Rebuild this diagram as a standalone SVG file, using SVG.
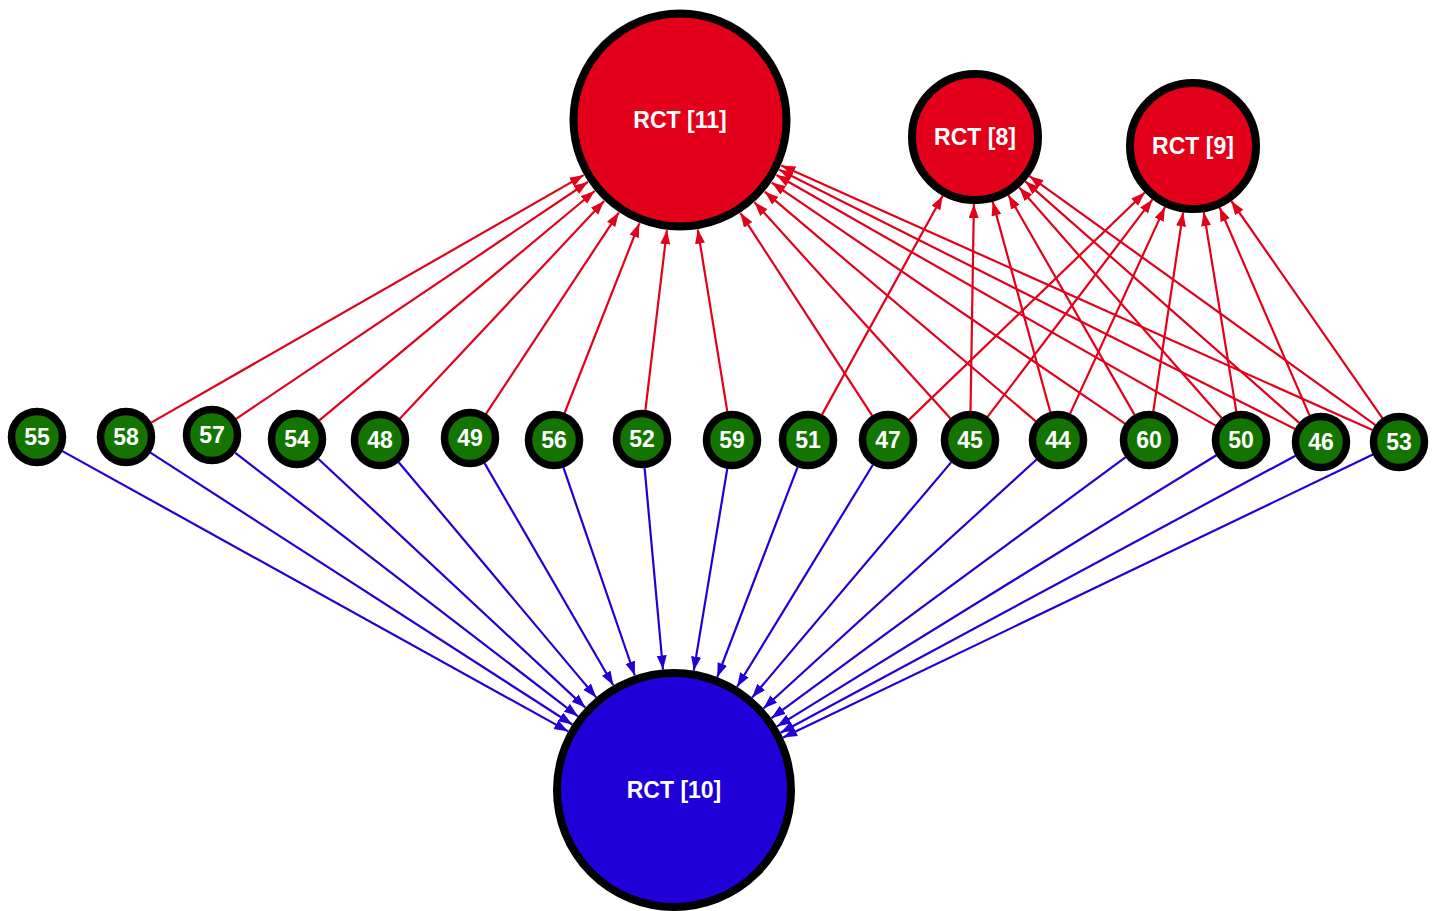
<svg xmlns="http://www.w3.org/2000/svg" width="1435" height="911" viewBox="0 0 1435 911">
<style>
.bg{fill:#ffffff}
.er{stroke:#e2001a;stroke-width:2.2;fill:none}
.eb{stroke:#2200d4;stroke-width:2.2;fill:none}
.big{stroke:#000;stroke-width:8}
.red{fill:#e2001a}
.blue{fill:#1f00d8}
.sm{fill:#137500;stroke:#000;stroke-width:7.5}
.t{font-family:"Liberation Sans",Arial,sans-serif;font-weight:bold;fill:#ffffff;text-anchor:middle}
.tb{font-size:23px}
.ts{font-size:23px}
</style>
<defs>
<marker id="ar" markerUnits="userSpaceOnUse" markerWidth="15" markerHeight="11" refX="14" refY="5" orient="auto">
<path d="M0,0 L14,5 L0,10 z" fill="#e2001a"/>
</marker>
<marker id="ab" markerUnits="userSpaceOnUse" markerWidth="15" markerHeight="11" refX="14" refY="5" orient="auto">
<path d="M0,0 L14,5 L0,10 z" fill="#2200d4"/>
</marker>
</defs>
<rect class="bg" x="0" y="0" width="1435" height="911"/>
<g id="connectors">
<g id="blue-edges" class="eb" marker-end="url(#ab)">
<line x1="62.4" y1="451.1" x2="568.2" y2="731.4"/>
<line x1="150.4" y1="452.7" x2="572.3" y2="724.5"/>
<line x1="235.0" y1="452.7" x2="578.0" y2="716.3"/>
<line x1="318.2" y1="458.8" x2="585.4" y2="707.6"/>
<line x1="398.7" y1="462.2" x2="596.2" y2="697.4"/>
<line x1="484.5" y1="463.1" x2="613.3" y2="685.3"/>
<line x1="563.4" y1="467.4" x2="634.8" y2="675.5"/>
<line x1="644.6" y1="467.9" x2="663.0" y2="669.5"/>
<line x1="727.3" y1="468.6" x2="693.8" y2="670.6"/>
<line x1="797.6" y1="467.1" x2="717.3" y2="677.0"/>
<line x1="872.9" y1="464.7" x2="737.1" y2="686.8"/>
<line x1="951.3" y1="462.1" x2="752.1" y2="697.6"/>
<line x1="1036.6" y1="459.5" x2="763.4" y2="708.5"/>
<line x1="1125.7" y1="457.2" x2="771.4" y2="718.2"/>
<line x1="1216.3" y1="455.2" x2="777.0" y2="726.4"/>
<line x1="1295.5" y1="455.7" x2="780.6" y2="732.7"/>
<line x1="1372.9" y1="454.5" x2="783.1" y2="737.6"/>
</g>
<g id="red-edges-11" class="er" marker-end="url(#ar)">
<line x1="151.2" y1="422.6" x2="583.7" y2="175.1"/>
<line x1="236.1" y1="418.8" x2="587.9" y2="182.0"/>
<line x1="319.3" y1="420.4" x2="594.7" y2="191.0"/>
<line x1="399.8" y1="418.8" x2="604.1" y2="201.0"/>
<line x1="486.0" y1="413.8" x2="618.8" y2="212.6"/>
<line x1="564.6" y1="413.0" x2="639.3" y2="223.3"/>
<line x1="645.4" y1="410.2" x2="666.9" y2="230.2"/>
<line x1="727.3" y1="411.4" x2="697.8" y2="229.6"/>
<line x1="872.2" y1="415.7" x2="740.5" y2="213.1"/>
<line x1="950.5" y1="418.5" x2="754.5" y2="202.2"/>
<line x1="1035.9" y1="421.3" x2="764.7" y2="191.7"/>
<line x1="1125.0" y1="423.7" x2="771.7" y2="182.6"/>
<line x1="1215.8" y1="425.6" x2="776.4" y2="175.0"/>
<line x1="1295.1" y1="429.0" x2="779.2" y2="169.8"/>
<line x1="1372.5" y1="430.1" x2="781.3" y2="165.4"/>
</g>
<g id="red-edges-8" class="er" marker-end="url(#ar)">
<line x1="822.0" y1="414.6" x2="942.7" y2="195.7"/>
<line x1="970.5" y1="411.0" x2="973.9" y2="204.0"/>
<line x1="1050.3" y1="412.0" x2="992.7" y2="201.6"/>
<line x1="1134.6" y1="414.9" x2="1008.4" y2="195.1"/>
<line x1="1221.9" y1="418.2" x2="1019.2" y2="187.4"/>
<line x1="1299.2" y1="422.8" x2="1025.3" y2="181.3"/>
<line x1="1375.5" y1="425.1" x2="1029.4" y2="176.1"/>
</g>
<g id="red-edges-9" class="er" marker-end="url(#ar)">
<line x1="908.9" y1="419.9" x2="1144.8" y2="192.5"/>
<line x1="987.5" y1="416.9" x2="1152.5" y2="199.4"/>
<line x1="1070.1" y1="413.6" x2="1165.0" y2="206.9"/>
<line x1="1153.3" y1="411.3" x2="1183.1" y2="212.3"/>
<line x1="1236.3" y1="411.4" x2="1203.8" y2="212.1"/>
<line x1="1309.5" y1="415.4" x2="1219.6" y2="207.5"/>
<line x1="1382.4" y1="418.2" x2="1231.3" y2="201.0"/>
</g>
</g>
<g id="rct11"><circle class="big red" cx="680" cy="120" r="106.5"/><text class="t tb" x="680" y="128">RCT [11]</text></g>
<g id="rct8"><circle class="big red" cx="975" cy="137" r="63"/><text class="t tb" x="975" y="145">RCT [8]</text></g>
<g id="rct9"><circle class="big red" cx="1193" cy="146" r="63"/><text class="t tb" x="1193" y="154">RCT [9]</text></g>
<g id="rct10"><circle class="big blue" cx="674" cy="790" r="117"/><text class="t tb" x="674" y="798">RCT [10]</text></g>
<g id="n55"><circle class="sm" cx="37" cy="437" r="25.5"/><text class="t ts" x="37" y="445">55</text></g>
<g id="n58"><circle class="sm" cx="126" cy="437" r="25.5"/><text class="t ts" x="126" y="445">58</text></g>
<g id="n57"><circle class="sm" cx="212" cy="435" r="25.5"/><text class="t ts" x="212" y="443">57</text></g>
<g id="n54"><circle class="sm" cx="297" cy="439" r="25.5"/><text class="t ts" x="297" y="447">54</text></g>
<g id="n48"><circle class="sm" cx="380" cy="440" r="25.5"/><text class="t ts" x="380" y="448">48</text></g>
<g id="n49"><circle class="sm" cx="470" cy="438" r="25.5"/><text class="t ts" x="470" y="446">49</text></g>
<g id="n56"><circle class="sm" cx="554" cy="440" r="25.5"/><text class="t ts" x="554" y="448">56</text></g>
<g id="n52"><circle class="sm" cx="642" cy="439" r="25.5"/><text class="t ts" x="642" y="447">52</text></g>
<g id="n59"><circle class="sm" cx="732" cy="440" r="25.5"/><text class="t ts" x="732" y="448">59</text></g>
<g id="n51"><circle class="sm" cx="808" cy="440" r="25.5"/><text class="t ts" x="808" y="448">51</text></g>
<g id="n47"><circle class="sm" cx="888" cy="440" r="25.5"/><text class="t ts" x="888" y="448">47</text></g>
<g id="n45"><circle class="sm" cx="970" cy="440" r="25.5"/><text class="t ts" x="970" y="448">45</text></g>
<g id="n44"><circle class="sm" cx="1058" cy="440" r="25.5"/><text class="t ts" x="1058" y="448">44</text></g>
<g id="n60"><circle class="sm" cx="1149" cy="440" r="25.5"/><text class="t ts" x="1149" y="448">60</text></g>
<g id="n50"><circle class="sm" cx="1241" cy="440" r="25.5"/><text class="t ts" x="1241" y="448">50</text></g>
<g id="n46"><circle class="sm" cx="1321" cy="442" r="25.5"/><text class="t ts" x="1321" y="450">46</text></g>
<g id="n53"><circle class="sm" cx="1399" cy="442" r="25.5"/><text class="t ts" x="1399" y="450">53</text></g>
</svg>
